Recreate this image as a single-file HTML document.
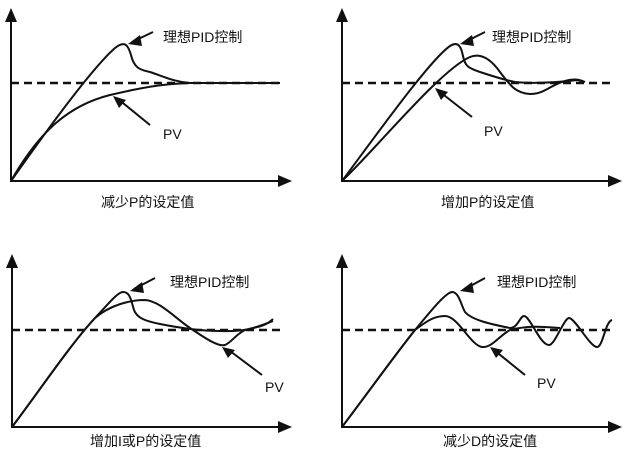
<!DOCTYPE html>
<html><head><meta charset="utf-8"><style>
html,body{margin:0;padding:0;background:#fff;}
svg{display:block;}
text{font-family:"Liberation Sans","Noto Sans CJK SC",sans-serif;font-size:14px;fill:#111;}
</style></head><body>
<svg width="639" height="457" viewBox="0 0 639 457">
<g stroke="#111" fill="none" stroke-width="2">
<!-- Panel 1 -->
<path d="M11,182V20 M11,181H280"/>
<path d="M11,83H280" stroke-dasharray="8,5" stroke-width="2.5"/>
<path d="M11,181 C40,140 90,70 115,48 C125,40 128,45 131,55 C134,68 140,70 150,72 C165,77 175,82 190,83 L280,83"/>
<path d="M11,181 C40,130 70,105 110,95 C140,88 160,84 190,83 L280,83"/>
<path d="M153,32 L132,42 M150,125 L118,99"/>
<!-- Panel 2 -->
<path d="M342,182V20 M342,181H612"/>
<path d="M342,83H612" stroke-dasharray="8,5" stroke-width="2.5"/>
<path d="M342,181 C380,130 430,60 450,46 C458,41 461,46 463,56 C465,66 468,68 480,72 C495,77 505,80 515,82 C535,84 560,82 578,80 L584,82"/>
<path d="M342,181 C375,150 440,70 470,57 C480,53 490,58 500,72 C510,85 515,93 530,94 C545,94 550,85 565,81 C575,78 580,80 585,82"/>
<path d="M485,32 L465,42 M472,117 L440,92"/>
<!-- Panel 3 -->
<path d="M12,428V266 M12,427H282"/>
<path d="M12,330H282" stroke-dasharray="8,5" stroke-width="2.5"/>
<path d="M12,427 C40,390 70,345 95,318 C110,302 118,292 123,292 C130,292 131,300 134,310 C137,318 145,321 160,324 C180,328 200,331 220,331 C245,332 255,328 273,321"/>
<path d="M12,427 C40,390 70,345 95,318 C110,305 130,300 145,300 C160,301 175,318 190,328 C205,338 218,347 225,345 C232,342 235,335 245,330 C255,327 265,327 273,319"/>
<path d="M155,278 L134,289 M262,375 L230,351"/>
<!-- Panel 4 -->
<path d="M342,428V266 M342,427H612"/>
<path d="M342,330H612" stroke-dasharray="8,5" stroke-width="2.5"/>
<path d="M342,427 C370,390 395,355 415,330 C430,312 445,293 452,292 C459,292 461,305 465,312 C472,320 490,324 510,328 C518,328 520,316 524,316 C530,316 540,345 549,345 C555,345 564,318 569,318 C575,318 590,347 597,347 C603,347 605,322 612,320"/>
<path d="M342,427 C370,390 395,355 415,330 C428,320 435,316 445,316 C458,316 470,345 482,347 C492,348 500,335 510,330 C530,325 545,327 560,328"/>
<path d="M485,278 L465,289 M525,375 L494,350"/>
</g>
<g fill="#111">
<polygon points="11,8 5,22 17,22"/><polygon points="292,181 278,175 278,187"/>
<polygon points="128,44 140,35 142,46"/><polygon points="113,96 126,100 119,108"/>
<polygon points="342,8 336,22 348,22"/><polygon points="622,181 608,175 608,187"/>
<polygon points="460,44 472,35 474,46"/><polygon points="435,88 448,92 441,100"/>
<polygon points="12,254 6,268 18,268"/><polygon points="292,427 278,421 278,433"/>
<polygon points="130,291 142,282 144,293"/><polygon points="222,347 235,350 228,358"/>
<polygon points="342,254 336,268 348,268"/><polygon points="622,427 608,421 608,433"/>
<polygon points="460,291 472,282 474,293"/><polygon points="490,347 503,350 496,358"/>
</g>
<text x="163" y="42">理想PID控制</text>
<text x="163" y="139">PV</text>
<text x="101" y="207">减少P的设定值</text>
<text x="492" y="42">理想PID控制</text>
<text x="484" y="136">PV</text>
<text x="441" y="207">增加P的设定值</text>
<text x="170" y="287">理想PID控制</text>
<text x="265" y="392">PV</text>
<text x="90" y="446">增加I或P的设定值</text>
<text x="497" y="287">理想PID控制</text>
<text x="537" y="388">PV</text>
<text x="443" y="446">减少D的设定值</text>
</svg>
</body></html>
